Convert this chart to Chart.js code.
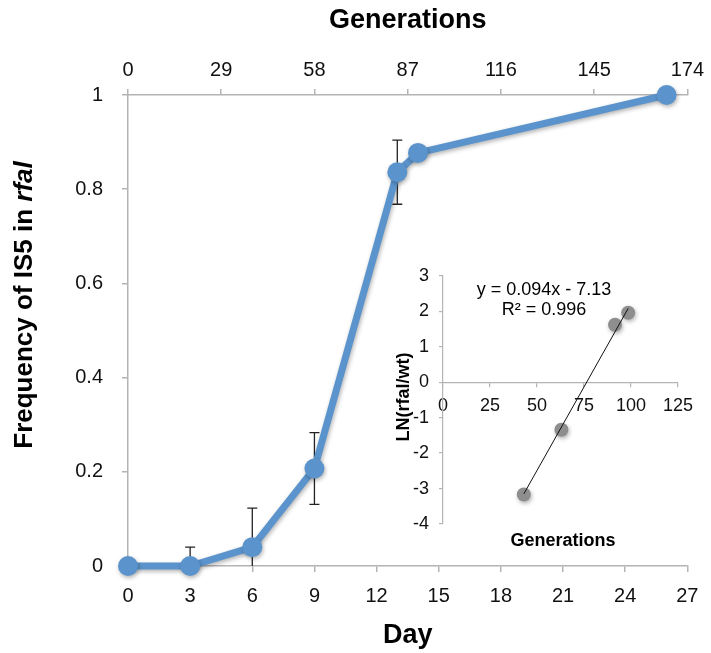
<!DOCTYPE html>
<html>
<head>
<meta charset="utf-8">
<script src="https://cdn.jsdelivr.net/npm/chart.js@4.4.1/dist/chart.umd.min.js"></script>
<style>
  html, body { margin: 0; padding: 0; background: #fff; }
  #wrap { position: relative; width: 711px; height: 653px; }
  #main { position: absolute; left: 0; top: 0; }
  #inset { position: absolute; left: 390px; top: 255px; }
</style>
</head>
<body>
<div id="wrap">
  <canvas id="main" width="711" height="653" style="width:711px;height:653px"></canvas>
  <canvas id="inset" width="315" height="300" style="width:315px;height:300px"></canvas>
</div>
<script>
// Main series: frequency of IS5 in rfaI by day
const days = [0, 3, 6, 9, 13, 14, 26];
const frequency = [0, 0, 0.04, 0.207, 0.836, 0.877, 1.0];
const freqError = [0, 0.04, 0.083, 0.076, 0.068, 0, 0];

// Inset: LN(rfal/wt) against generations, with linear trendline
const insetGenerations = [43, 63, 91.5, 98.5];
const insetLnRatio = [-3.17, -1.34, 1.62, 1.96];
const trendGenerations = [43, 98.5];
const trendLnRatio = [-3.15, 2.08];
const trendEquation = 'y = 0.094x - 7.13';
const trendR2 = 'R\u00b2 = 0.996';

const family = '"Liberation Sans", Arial, Helvetica, sans-serif';
const blue = '#5b94cc';
const axisGray = '#b4b4b4';
const textColor = '#111';

// Drop shadow behind marks (Excel style)
const markShadow = {
  id: 'markShadow',
  beforeDatasetDraw(chart, args) {
    const ds = chart.data.datasets[args.index];
    if (!ds.shadow) return;
    const ctx = chart.ctx;
    ctx.save();
    ctx.shadowColor = 'rgba(0,0,0,0.3)';
    ctx.shadowBlur = 4;
    ctx.shadowOffsetX = 1;
    ctx.shadowOffsetY = 2;
  },
  afterDatasetDraw(chart, args) {
    const ds = chart.data.datasets[args.index];
    if (ds.shadow) chart.ctx.restore();
  }
};

// Vertical error bars with caps, drawn under the line
const errorBars = {
  id: 'errorBars',
  beforeDatasetsDraw(chart) {
    const { ctx, chartArea } = chart;
    const x = chart.scales.x, y = chart.scales.y;
    ctx.save();
    ctx.strokeStyle = '#222';
    ctx.lineWidth = 1.3;
    days.forEach((d, i) => {
      const e = freqError[i];
      if (!e) return;
      const px = x.getPixelForValue(d);
      const hi = y.getPixelForValue(frequency[i] + e);
      const loVal = frequency[i] - e;
      const lo = Math.min(y.getPixelForValue(loVal), chartArea.bottom);
      ctx.beginPath();
      ctx.moveTo(px, hi);
      ctx.lineTo(px, lo);
      ctx.moveTo(px - 5, hi);
      ctx.lineTo(px + 5, hi);
      if (loVal > 0) {
        ctx.moveTo(px - 5, lo);
        ctx.lineTo(px + 5, lo);
      }
      ctx.stroke();
    });
    ctx.restore();
  }
};

// Y title with italic gene name
const freqTitle = {
  id: 'freqTitle',
  afterDraw(chart) {
    const ctx = chart.ctx;
    const part1 = 'Frequency of IS5 in ';
    const part2 = 'rfal';
    const bold = 'bold 26px ' + family;
    const italic = 'italic bold 26px ' + family;
    ctx.save();
    ctx.translate(25, 305);
    ctx.rotate(-Math.PI / 2);
    ctx.fillStyle = '#000';
    ctx.textBaseline = 'middle';
    ctx.textAlign = 'left';
    ctx.font = bold;
    const w1 = ctx.measureText(part1).width;
    ctx.font = italic;
    const w2 = ctx.measureText(part2).width;
    const sx = -(w1 + w2) / 2;
    ctx.font = bold;
    ctx.fillText(part1, sx, 0);
    ctx.font = italic;
    ctx.fillText(part2, sx + w1, 0);
    ctx.restore();
  }
};

new Chart(document.getElementById('main'), {
  type: 'line',
  data: {
    datasets: [{
      data: days.map((d, i) => ({ x: d, y: frequency[i] })),
      borderColor: blue,
      backgroundColor: blue,
      borderWidth: 7,
      pointRadius: 10,
      pointBorderWidth: 0,
      pointBackgroundColor: blue,
      tension: 0,
      clip: false,
      shadow: true,
    }]
  },
  options: {
    responsive: false,
    animation: false,
    layout: { padding: { left: 0, right: 21, top: 0, bottom: 0 } },
    plugins: { legend: { display: false }, tooltip: { enabled: false } },
    scales: {
      x: {
        type: 'linear',
        position: 'bottom',
        min: 0,
        max: 27,
        ticks: { stepSize: 3, padding: 12, color: textColor, font: { size: 20, family } },
        grid: { drawOnChartArea: false, tickLength: 6, color: axisGray, lineWidth: 1.5 },
        border: { color: axisGray, width: 1.5 },
        title: {
          display: true, text: 'Day', color: '#000',
          font: { size: 27, weight: 'bold', family },
          padding: { top: 0, bottom: 1 }
        },
        afterFit(s) { s.height = 87; }
      },
      x2: {
        type: 'linear',
        position: 'top',
        min: 0,
        max: 174,
        ticks: { stepSize: 29, padding: 7, color: textColor, font: { size: 20, family } },
        grid: { drawOnChartArea: false, tickLength: 6, color: axisGray, lineWidth: 1.5 },
        border: { color: axisGray, width: 1.5 },
        title: {
          display: true, text: 'Generations', color: '#000',
          font: { size: 27, weight: 'bold', family },
          padding: { top: 4, bottom: 0 }
        },
        afterFit(s) { s.height = 95; }
      },
      y: {
        min: 0,
        max: 1,
        ticks: {
          stepSize: 0.2, padding: 19, color: textColor, font: { size: 20, family },
          callback: (v) => String(Math.round(v * 10) / 10)
        },
        grid: { drawOnChartArea: false, tickLength: 6, color: axisGray, lineWidth: 1.5 },
        border: { color: axisGray, width: 1.5 },
        afterFit(s) { s.width = 128; }
      }
    }
  },
  plugins: [markShadow, errorBars, freqTitle]
});

// Inset texts: equation, R², axis titles
const insetText = {
  id: 'insetText',
  afterDraw(chart) {
    const ctx = chart.ctx;
    ctx.save();
    ctx.fillStyle = '#000';
    ctx.textAlign = 'center';
    ctx.textBaseline = 'middle';
    ctx.font = '18px ' + family;
    ctx.fillText(trendEquation, 154, 35);
    ctx.fillText(trendR2, 154, 55);
    ctx.font = 'bold 18px ' + family;
    ctx.fillText('Generations', 173, 286);
    ctx.translate(14, 142);
    ctx.rotate(-Math.PI / 2);
    ctx.font = 'bold 18px ' + family;
    ctx.fillText('LN(rfal/wt)', 0, 0);
    ctx.restore();
  }
};

new Chart(document.getElementById('inset'), {
  type: 'scatter',
  data: {
    datasets: [
      {
        type: 'line',
        data: trendGenerations.map((g, i) => ({ x: g, y: trendLnRatio[i] })),
        borderColor: '#111',
        borderWidth: 1,
        pointRadius: 0,
        tension: 0,
      },
      {
        data: insetGenerations.map((g, i) => ({ x: g, y: insetLnRatio[i] })),
        backgroundColor: '#8e8e8e',
        pointRadius: 7,
        pointBorderWidth: 0,
        shadow: true,
      }
    ]
  },
  options: {
    responsive: false,
    animation: false,
    layout: { padding: { left: 0, right: 27, top: 20, bottom: 31 } },
    plugins: { legend: { display: false }, tooltip: { enabled: false } },
    scales: {
      x: {
        type: 'linear',
        min: 0,
        max: 125,
        position: { y: 0 },
        ticks: { stepSize: 25, padding: 9, color: textColor, font: { size: 18, family } },
        grid: { drawOnChartArea: false, tickLength: 4, color: axisGray, lineWidth: 1.2 },
        border: { color: axisGray, width: 1.2 }
      },
      y: {
        min: -4,
        max: 3,
        ticks: { stepSize: 1, padding: 10, color: textColor, font: { size: 18, family } },
        grid: { drawOnChartArea: false, tickLength: 4, color: axisGray, lineWidth: 1.2 },
        border: { color: axisGray, width: 1.2 },
        afterFit(s) { s.width = 53; }
      }
    }
  },
  plugins: [markShadow, insetText]
});
</script>
</body>
</html>
